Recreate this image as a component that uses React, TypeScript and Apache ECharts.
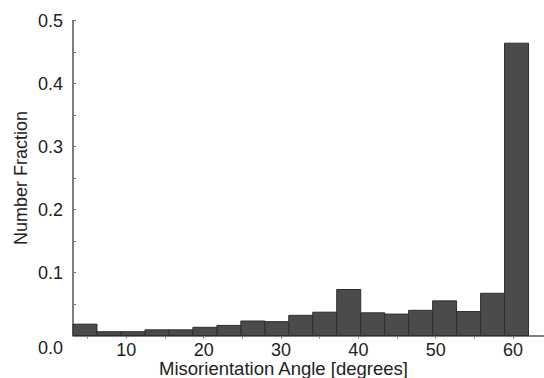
import React, { useEffect, useRef } from "react";
import * as echarts from "echarts";

// Misorientation angle histogram: bin width 3.1 degrees, first bin starting at 3.1
const binStarts = [3.1, 6.2, 9.3, 12.4, 15.5, 18.6, 21.7, 24.8, 27.9, 31.0, 34.1, 37.2, 40.3, 43.4, 46.5, 49.6, 52.7, 55.8, 58.9];
const binWidth = 3.1;
const fractions = [0.018, 0.006, 0.006, 0.009, 0.009, 0.013, 0.016, 0.023, 0.022, 0.032, 0.037, 0.073, 0.036, 0.034, 0.040, 0.055, 0.038, 0.067, 0.464];

const xTickValues = [5, 10, 15, 20, 25, 30, 35, 40, 45, 50, 55, 60];
const xLabelValues = [10, 20, 30, 40, 50, 60];

export default function App() {
  const ref = useRef<HTMLDivElement>(null);
  useEffect(() => {
    if (!ref.current) return;
    const chart = echarts.init(ref.current, null, { renderer: "svg" });
    const data = binStarts.map((s, i) => [s, s + binWidth, fractions[i]]);
    const font = "Liberation Sans, Arial, sans-serif";
    chart.setOption({
      animation: false,
      backgroundColor: "#ffffff",
      textStyle: { fontFamily: font },
      grid: { left: 73, right: 0, top: 20.5, bottom: 42.5, containLabel: false, outerBoundsMode: "none" },
      xAxis: {
        type: "value",
        min: 3.1,
        max: 64,
        name: "Misorientation Angle [degrees]",
        nameLocation: "middle",
        nameGap: 25,
        nameMoveOverlap: false,
        nameTextStyle: { fontSize: 18.5, lineHeight: 16, color: "#222", fontFamily: font, padding: [0, 50, 0, 0] },
        axisLine: { show: true, lineStyle: { color: "#555", width: 1.5 } },
        axisTick: { show: true, customValues: xTickValues, length: 3, inside: false, lineStyle: { color: "#777" } },
        axisLabel: { customValues: xLabelValues, fontSize: 18, lineHeight: 16, color: "#222", margin: 6, fontFamily: font },
        splitLine: { show: false },
      },
      yAxis: {
        type: "value",
        min: 0,
        max: 0.5,
        interval: 0.1,
        name: "Number Fraction",
        nameLocation: "middle",
        nameGap: 43,
        nameMoveOverlap: false,
        nameTextStyle: { fontSize: 18, color: "#222", fontFamily: font },
        axisLine: { show: true, lineStyle: { color: "#555", width: 1.5 } },
        axisTick: { show: true, length: 3, inside: true, lineStyle: { color: "#777" } },
        minorTick: { show: true, splitNumber: 2, length: 3, lineStyle: { color: "#777" } },
        axisLabel: {
          fontSize: 18,
          color: "#222",
          margin: 10,
          fontFamily: font,
          formatter: (v: number) => (v === 0 ? "{z|0.0}" : v.toFixed(1)),
          rich: { z: { fontSize: 18, color: "#222", fontFamily: font, padding: [24, 0, 0, 0] } },
        },
        splitLine: { show: false },
      },
      series: [
        {
          type: "custom",
          data,
          encode: { x: [0, 1], y: 2 },
          renderItem: (params: any, api: any) => {
            const p0 = api.coord([api.value(0), 0]);
            const p1 = api.coord([api.value(1), api.value(2)]);
            return {
              type: "rect",
              shape: { x: p0[0], y: p1[1], width: p1[0] - p0[0], height: p0[1] - p1[1] },
              style: { fill: "#4b4b4b", stroke: "#2e2e2e", lineWidth: 1 },
            };
          },
        },
      ],
    });
    return () => chart.dispose();
  }, []);
  return <div ref={ref} style={{ width: 544, height: 378, position: "absolute", left: 0, top: 0 }} />;
}
